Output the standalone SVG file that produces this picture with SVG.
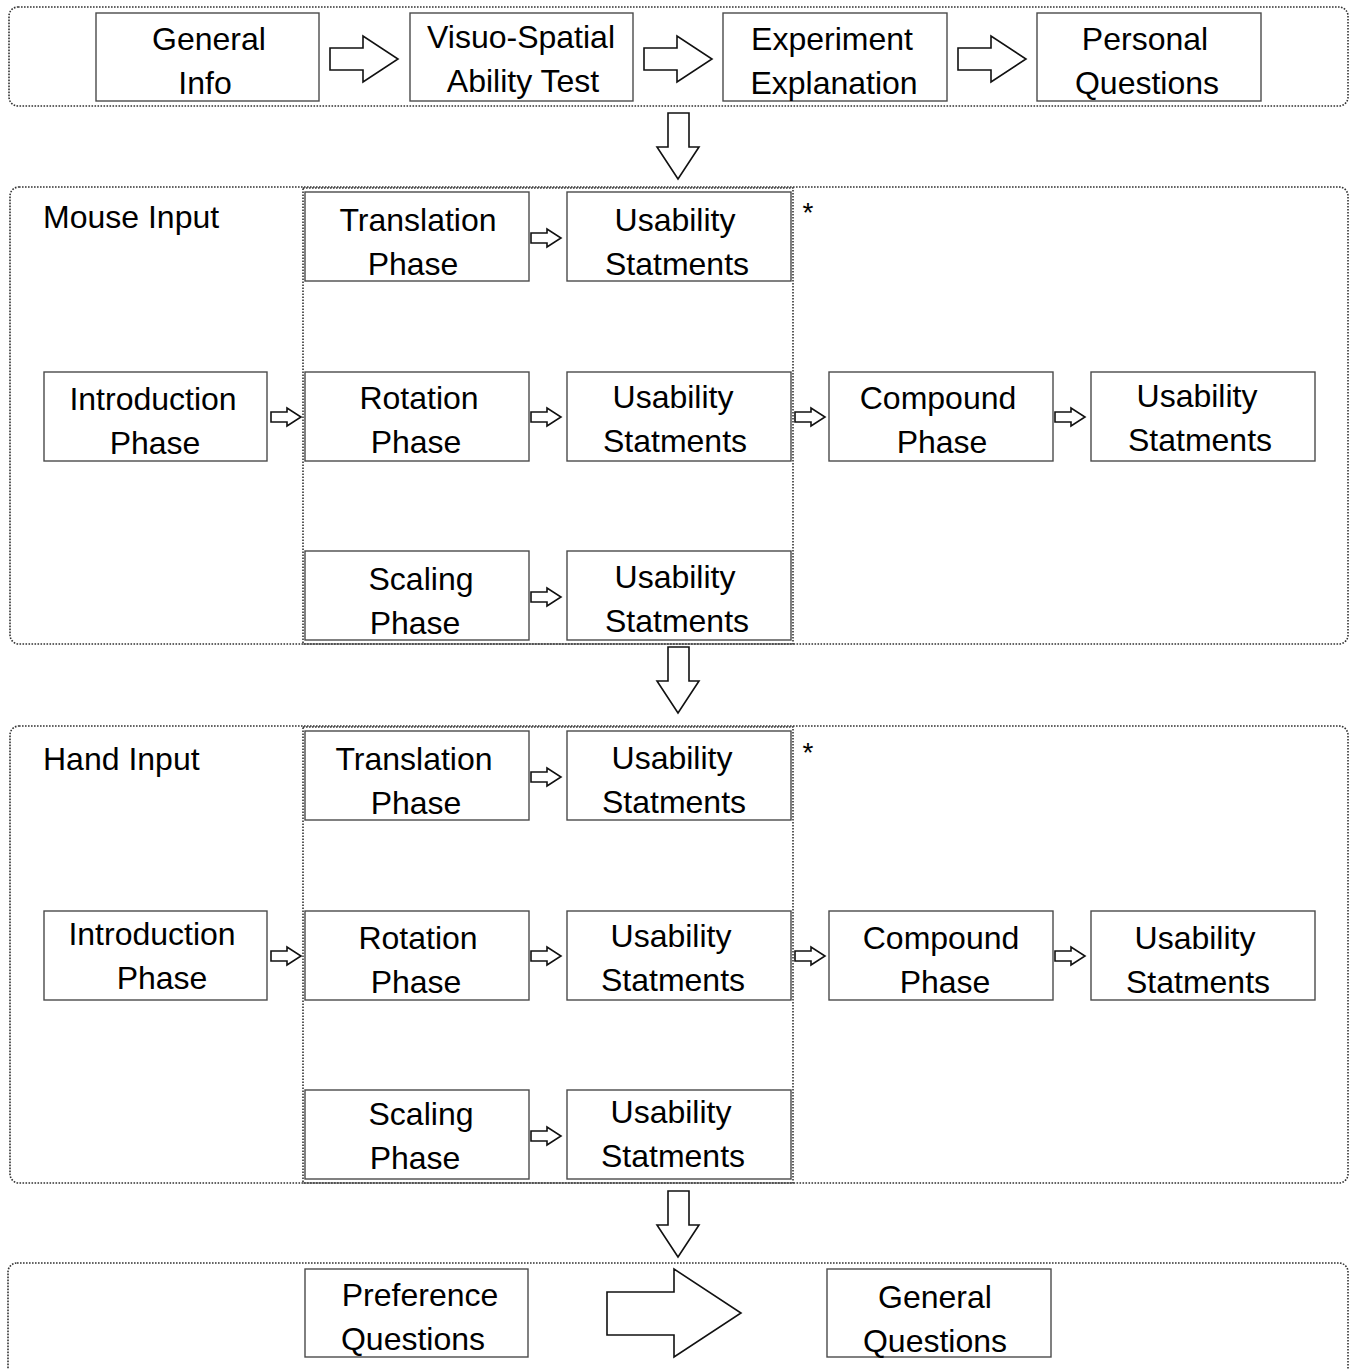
<svg xmlns="http://www.w3.org/2000/svg" xmlns:xlink="http://www.w3.org/1999/xlink" width="1349" height="1369" viewBox="0 0 1349 1369">
<style>
.bg{fill:#fff}
.frame{fill:none;stroke:#333;stroke-width:1.6;stroke-dasharray:1.6 1.4}
.box{fill:#fff;stroke:#4a4a4a;stroke-width:1.4}
.arr{fill:#fff;stroke:#111;stroke-width:1.6;stroke-linejoin:miter}
text{font-family:"Liberation Sans",Arial,sans-serif;font-size:32px;fill:#000}
.c{text-anchor:middle}
</style>
<defs>
<path id="sa" class="arr" d="M0,-5 H16 V-9 L30,0 L16,9 V5 H0 Z"/>
<path id="ba" class="arr" d="M0,-11 H33 V-23 L68,0 L33,23 V11 H0 Z"/>
<path id="da" class="arr" d="M-10,0 H11 V34 H21 L0,66 L-21,34 H-10 Z"/>
</defs>
<rect class="bg" width="1349" height="1369"/>

<g id="frames">
<rect id="frame-top" class="frame" x="9" y="7" width="1339" height="99" rx="9"/>
<rect id="frame-mouse" class="frame" x="10" y="187" width="1338" height="457" rx="9"/>
<rect id="frame-mouse-inner" class="frame" x="303" y="188" width="490" height="456"/>
<rect id="frame-hand" class="frame" x="10" y="726" width="1338" height="457" rx="9"/>
<rect id="frame-hand-inner" class="frame" x="303" y="727" width="490" height="456"/>
<rect id="frame-bottom" class="frame" x="8" y="1263" width="1340" height="130" rx="9"/>
</g>

<g id="labels">
<text x="43" y="228">Mouse Input</text>
<text x="43" y="770">Hand Input</text>
<text x="808" y="222" class="c" style="font-size:28px">*</text>
<text x="808" y="762" class="c" style="font-size:28px">*</text>
</g>

<g id="connectors">
<use xlink:href="#ba" x="330" y="59"/>
<use xlink:href="#ba" x="644" y="59"/>
<use xlink:href="#ba" x="958" y="59"/>
<use xlink:href="#da" x="678" y="113"/>
<use xlink:href="#da" x="678" y="647"/>
<use xlink:href="#da" x="678" y="1191"/>
<use xlink:href="#sa" x="531" y="238"/>
<use xlink:href="#sa" x="271" y="417"/>
<use xlink:href="#sa" x="531" y="417"/>
<use xlink:href="#sa" x="795" y="417"/>
<use xlink:href="#sa" x="1055" y="417"/>
<use xlink:href="#sa" x="531" y="597"/>
<use xlink:href="#sa" x="531" y="777"/>
<use xlink:href="#sa" x="271" y="956"/>
<use xlink:href="#sa" x="531" y="956"/>
<use xlink:href="#sa" x="795" y="956"/>
<use xlink:href="#sa" x="1055" y="956"/>
<use xlink:href="#sa" x="531" y="1136"/>
<path class="arr" d="M607,1292 H674 V1269 L741,1313 L674,1357 V1335 H607 Z"/>
</g>

<g id="n-general-info"><rect class="box" x="96" y="13" width="223" height="88"/><text class="c" x="209" y="50">General</text><text class="c" x="205" y="94">Info</text></g>
<g id="n-visuo"><rect class="box" x="410" y="13" width="223" height="88"/><text class="c" x="521" y="48">Visuo-Spatial</text><text class="c" x="523" y="92">Ability Test</text></g>
<g id="n-experiment"><rect class="box" x="723" y="13" width="224" height="88"/><text class="c" x="832" y="50">Experiment</text><text class="c" x="834" y="94">Explanation</text></g>
<g id="n-personal"><rect class="box" x="1037" y="13" width="224" height="88"/><text class="c" x="1145" y="50">Personal</text><text class="c" x="1147" y="94">Questions</text></g>

<g id="m-translation"><rect class="box" x="305" y="192" width="224" height="89"/><text class="c" x="418" y="231">Translation</text><text class="c" x="413" y="275">Phase</text></g>
<g id="m-us1"><rect class="box" x="567" y="192" width="224" height="89"/><text class="c" x="675" y="231">Usability</text><text class="c" x="677" y="275">Statments</text></g>
<g id="m-intro"><rect class="box" x="44" y="372" width="223" height="89"/><text class="c" x="153" y="410">Introduction</text><text class="c" x="155" y="454">Phase</text></g>
<g id="m-rotation"><rect class="box" x="305" y="372" width="224" height="89"/><text class="c" x="419" y="409">Rotation</text><text class="c" x="416" y="453">Phase</text></g>
<g id="m-us2"><rect class="box" x="567" y="372" width="224" height="89"/><text class="c" x="673" y="408">Usability</text><text class="c" x="675" y="452">Statments</text></g>
<g id="m-compound"><rect class="box" x="829" y="372" width="224" height="89"/><text class="c" x="938" y="409">Compound</text><text class="c" x="942" y="453">Phase</text></g>
<g id="m-us4"><rect class="box" x="1091" y="372" width="224" height="89"/><text class="c" x="1197" y="407">Usability</text><text class="c" x="1200" y="451">Statments</text></g>
<g id="m-scaling"><rect class="box" x="305" y="551" width="224" height="89"/><text class="c" x="421" y="590">Scaling</text><text class="c" x="415" y="634">Phase</text></g>
<g id="m-us3"><rect class="box" x="567" y="551" width="224" height="89"/><text class="c" x="675" y="588">Usability</text><text class="c" x="677" y="632">Statments</text></g>

<g id="h-translation"><rect class="box" x="305" y="731" width="224" height="89"/><text class="c" x="414" y="770">Translation</text><text class="c" x="416" y="814">Phase</text></g>
<g id="h-us1"><rect class="box" x="567" y="731" width="224" height="89"/><text class="c" x="672" y="769">Usability</text><text class="c" x="674" y="813">Statments</text></g>
<g id="h-intro"><rect class="box" x="44" y="911" width="223" height="89"/><text class="c" x="152" y="945">Introduction</text><text class="c" x="162" y="989">Phase</text></g>
<g id="h-rotation"><rect class="box" x="305" y="911" width="224" height="89"/><text class="c" x="418" y="949">Rotation</text><text class="c" x="416" y="993">Phase</text></g>
<g id="h-us2"><rect class="box" x="567" y="911" width="224" height="89"/><text class="c" x="671" y="947">Usability</text><text class="c" x="673" y="991">Statments</text></g>
<g id="h-compound"><rect class="box" x="829" y="911" width="224" height="89"/><text class="c" x="941" y="949">Compound</text><text class="c" x="945" y="993">Phase</text></g>
<g id="h-us4"><rect class="box" x="1091" y="911" width="224" height="89"/><text class="c" x="1195" y="949">Usability</text><text class="c" x="1198" y="993">Statments</text></g>
<g id="h-scaling"><rect class="box" x="305" y="1090" width="224" height="89"/><text class="c" x="421" y="1125">Scaling</text><text class="c" x="415" y="1169">Phase</text></g>
<g id="h-us3"><rect class="box" x="567" y="1090" width="224" height="89"/><text class="c" x="671" y="1123">Usability</text><text class="c" x="673" y="1167">Statments</text></g>

<g id="n-preference"><rect class="box" x="305" y="1269" width="223" height="88"/><text class="c" x="420" y="1306">Preference</text><text class="c" x="413" y="1350">Questions</text></g>
<g id="n-general-q"><rect class="box" x="827" y="1269" width="224" height="88"/><text class="c" x="935" y="1308">General</text><text class="c" x="935" y="1352">Questions</text></g>
</svg>
